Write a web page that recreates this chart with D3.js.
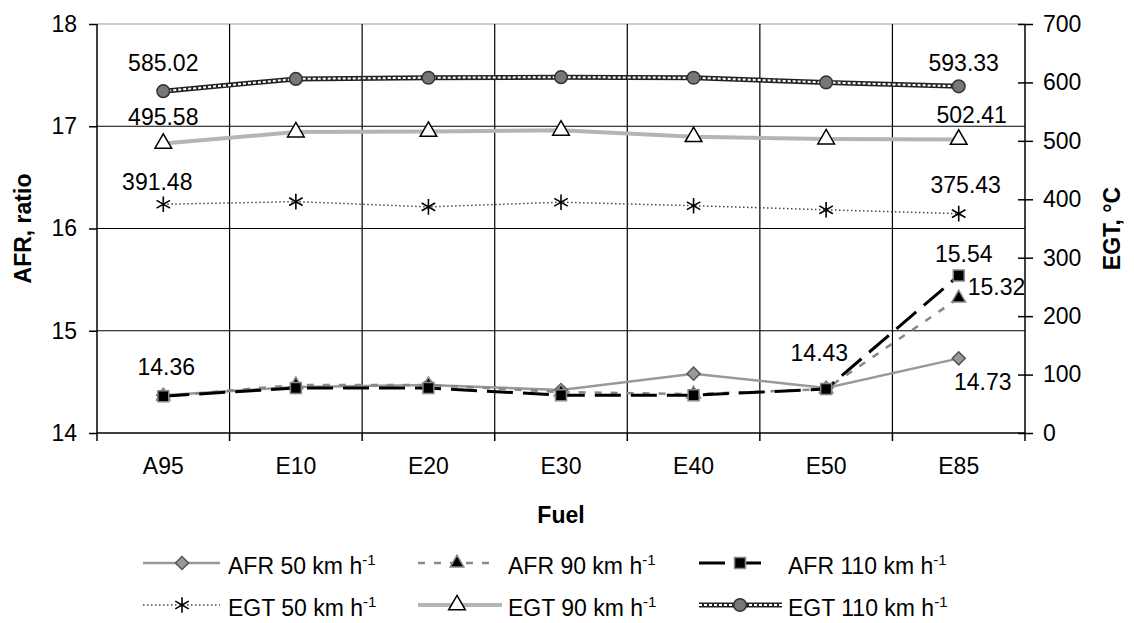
<!DOCTYPE html>
<html>
<head>
<meta charset="utf-8">
<script src="https://cdn.jsdelivr.net/npm/d3@7"></script>
<style>
  body { margin: 0; background: #fff; }
  text { font-family: "Liberation Sans", Arial, sans-serif; fill: #000; }
  .tick-label { font-size: 23px; }
  .title { font-size: 23px; font-weight: bold; }
</style>
</head>
<body>
<svg width="1134" height="623"></svg>
<script>
var fuels = ["A95", "E10", "E20", "E30", "E40", "E50", "E85"];

var afr50  = [14.37, 14.45, 14.47, 14.42, 14.58, 14.44, 14.73];
var afr90  = [14.36, 14.47, 14.47, 14.40, 14.38, 14.43, 15.32];
var afr110 = [14.36, 14.44, 14.44, 14.37, 14.37, 14.43, 15.54];
var egt50  = [391.48, 396, 387, 395, 389, 382, 375.43];
var egt90  = [495.58, 515, 516, 518, 507, 503, 502.41];
var egt110 = [585.02, 606, 608, 609, 608, 600, 593.33];

var afrTicks = [14, 15, 16, 17, 18];
var egtTicks = [0, 100, 200, 300, 400, 500, 600, 700];

var svg = d3.select("svg"),
    margin = {top: 24, right: 109, bottom: 190, left: 97},
    width = +svg.attr("width") - margin.left - margin.right,
    height = +svg.attr("height") - margin.top - margin.bottom;

var x = d3.scaleBand().domain(fuels).range([0, width]),
    yL = d3.scaleLinear().domain([14, 18]).range([height, 0]),
    yR = d3.scaleLinear().domain([0, 700]).range([height, 0]);

function cx(i) { return x(fuels[i]) + x.bandwidth() / 2; }

var g = svg.append("g")
    .attr("transform", "translate(" + margin.left + "," + margin.top + ")");

// grid
g.selectAll(".hgrid")
    .data(afrTicks.slice(1))
    .enter().append("line")
    .attr("x1", 0).attr("x2", width)
    .attr("y1", function(d) { return yL(d); })
    .attr("y2", function(d) { return yL(d); })
    .attr("stroke", function(d) { return d == 18 ? "#999" : "#000"; })
    .attr("stroke-width", 1.2);

g.selectAll(".vgrid")
    .data(fuels.slice(1))
    .enter().append("line")
    .attr("x1", function(d) { return x(d); })
    .attr("x2", function(d) { return x(d); })
    .attr("y1", 0).attr("y2", height)
    .attr("stroke", "#000").attr("stroke-width", 1.2);

// axes
var leftAxis = d3.axisLeft(yL).tickValues(afrTicks).tickFormat(d3.format("d")).tickSize(8).tickPadding(12);
var gl = g.append("g").call(leftAxis);
gl.select(".domain").remove();
gl.append("line").attr("y1", 0).attr("y2", height).attr("stroke", "#000").attr("stroke-width", 1.5);
gl.selectAll(".tick line").attr("stroke-width", 1.5);

var rightAxis = d3.axisRight(yR).tickValues(egtTicks).tickSize(8).tickPadding(10);
var gr = g.append("g").attr("transform", "translate(" + width + ",0)").call(rightAxis);
gr.select(".domain").remove();
gr.append("line").attr("y1", 0).attr("y2", height).attr("stroke", "#000").attr("stroke-width", 1.5);
gr.selectAll(".tick line").attr("x1", -7).attr("stroke-width", 1.5);

var bottomAxis = d3.axisBottom(x).tickSize(0).tickPadding(25);
var gb = g.append("g").attr("transform", "translate(0," + height + ")").call(bottomAxis);
gb.select(".domain").remove();
gb.append("line").attr("x1", 0).attr("x2", width).attr("stroke", "#000").attr("stroke-width", 1.5);
gb.selectAll(".bt")
    .data(fuels.concat(["end"]))
    .enter().append("line")
    .attr("x1", function(d, i) { return i * x.bandwidth(); })
    .attr("x2", function(d, i) { return i * x.bandwidth(); })
    .attr("y1", 0).attr("y2", 8)
    .attr("stroke", "#000").attr("stroke-width", 1.5);

svg.selectAll(".tick text")
    .attr("class", "tick-label")
    .attr("font-family", null).attr("font-size", null);

// series styles
var series = [
  {name: "AFR 50",  vals: afr50,  y: yL, stroke: "#999", w: 2.5, dash: null, sym: d3.symbolSquare, rot: 45, size: 85, fill: "#999", mstroke: "#555"},
  {name: "AFR 90",  vals: afr90,  y: yL, stroke: "#888", w: 2.5, dash: "7,9", sym: d3.symbolTriangle, size: 80, fill: "#000", mstroke: "#888"},
  {name: "AFR 110", vals: afr110, y: yL, stroke: "#000", w: 3, dash: "26,10", sym: d3.symbolSquare, size: 120, fill: "#000", mstroke: "#888"},
  {name: "EGT 50",  vals: egt50,  y: yR, stroke: "#444", w: 1.5, dash: "1.5,2.5", sym: d3.symbolAsterisk, size: 170, fill: "none", mstroke: "#000"},
  {name: "EGT 90",  vals: egt90,  y: yR, stroke: "#b5b5b5", w: 4, dash: null, sym: d3.symbolTriangle, size: 120, fill: "#fff", mstroke: "#000"},
  {name: "EGT 110", vals: egt110, y: yR, stroke: "#222", w: 5, dash: null, chain: true, sym: d3.symbolCircle, size: 125, fill: "#777", mstroke: "#333"}
];

function drawLine(sel, s, data) {
  sel.append("path")
      .datum(data)
      .attr("fill", "none")
      .attr("stroke", s.stroke)
      .attr("stroke-width", s.w)
      .attr("stroke-dasharray", s.dash)
      .attr("d", d3.line());
  if (s.chain) {
    sel.append("path")
        .datum(data)
        .attr("fill", "none")
        .attr("stroke", "#fff")
        .attr("stroke-width", 2)
        .attr("stroke-dasharray", "3,2")
        .attr("d", d3.line());
  }
}

function drawMarker(sel, s, px, py) {
  sel.append("path")
      .attr("transform", "translate(" + px + "," + py + ")" + (s.rot ? " rotate(" + s.rot + ")" : ""))
      .attr("d", d3.symbol().type(s.sym).size(s.size)())
      .attr("fill", s.fill)
      .attr("stroke", s.mstroke)
      .attr("stroke-width", s.sym == d3.symbolAsterisk ? 1.6 : 1.5);
}

// draw EGT first then AFR
[3, 4, 5, 0, 1, 2].forEach(function(k) {
  var s = series[k];
  var pts = s.vals.map(function(v, i) { return [cx(i), s.y(v)]; });
  var sg = g.append("g");
  drawLine(sg, s, pts);
  pts.forEach(function(p) { drawMarker(sg, s, p[0], p[1]); });
});

// data labels
var labels = [
  {s: 5, i: 0, dx: 0,  dy: -20, anchor: "middle"},
  {s: 5, i: 6, dx: 5,  dy: -15, anchor: "middle"},
  {s: 4, i: 0, dx: 0,  dy: -18, anchor: "middle"},
  {s: 4, i: 6, dx: 13, dy: -16, anchor: "middle"},
  {s: 3, i: 0, dx: -6, dy: -14, anchor: "middle"},
  {s: 3, i: 6, dx: 7,  dy: -21, anchor: "middle"},
  {s: 2, i: 0, dx: 3,  dy: -21, anchor: "middle"},
  {s: 2, i: 5, dx: 22, dy: -28, anchor: "end"},
  {s: 2, i: 6, dx: 5,  dy: -14, anchor: "middle"},
  {s: 1, i: 6, dx: 9,  dy: -3,  anchor: "start"},
  {s: 0, i: 6, dx: 24, dy: 32,  anchor: "middle"}
];

g.selectAll(".dlabel")
    .data(labels)
    .enter().append("text")
    .attr("class", "tick-label")
    .attr("x", function(d) { return cx(d.i) + d.dx; })
    .attr("y", function(d) { var s = series[d.s]; return s.y(s.vals[d.i]) + d.dy; })
    .attr("text-anchor", function(d) { return d.anchor; })
    .text(function(d) { return d3.format(".2f")(series[d.s].vals[d.i]); });

// axis titles
svg.append("text").attr("class", "title")
    .attr("transform", "translate(31," + (margin.top + height / 2) + ") rotate(-90)")
    .attr("text-anchor", "middle")
    .text("AFR, ratio");

svg.append("text").attr("class", "title")
    .attr("transform", "translate(1120," + (margin.top + height / 2) + ") rotate(-90)")
    .attr("text-anchor", "middle")
    .text("EGT, °C");

svg.append("text").attr("class", "title")
    .attr("x", margin.left + width / 2).attr("y", 523)
    .attr("text-anchor", "middle")
    .text("Fuel");

// legend
var legendPos = [
  {x1: 143, x2: 220, mx: 182, tx: 228, y: 563},
  {x1: 418, x2: 495, mx: 457, tx: 508, y: 563},
  {x1: 699, x2: 768, mx: 740, tx: 788, y: 563},
  {x1: 143, x2: 220, mx: 182, tx: 228, y: 605},
  {x1: 418, x2: 502, mx: 457, tx: 508, y: 605},
  {x1: 699, x2: 782, mx: 740, tx: 788, y: 605}
];

series.forEach(function(s, k) {
  var p = legendPos[k];
  var lg = svg.append("g");
  drawLine(lg, s, [[p.x1, p.y], [p.x2, p.y]]);
  drawMarker(lg, s, p.mx, p.y);
  var t = lg.append("text").attr("class", "tick-label")
      .attr("x", p.tx).attr("y", p.y + 11);
  t.append("tspan").text(s.name + " km h");
  t.append("tspan").attr("dy", -9).attr("font-size", 15).text("-1");
});
</script>
</body>
</html>
